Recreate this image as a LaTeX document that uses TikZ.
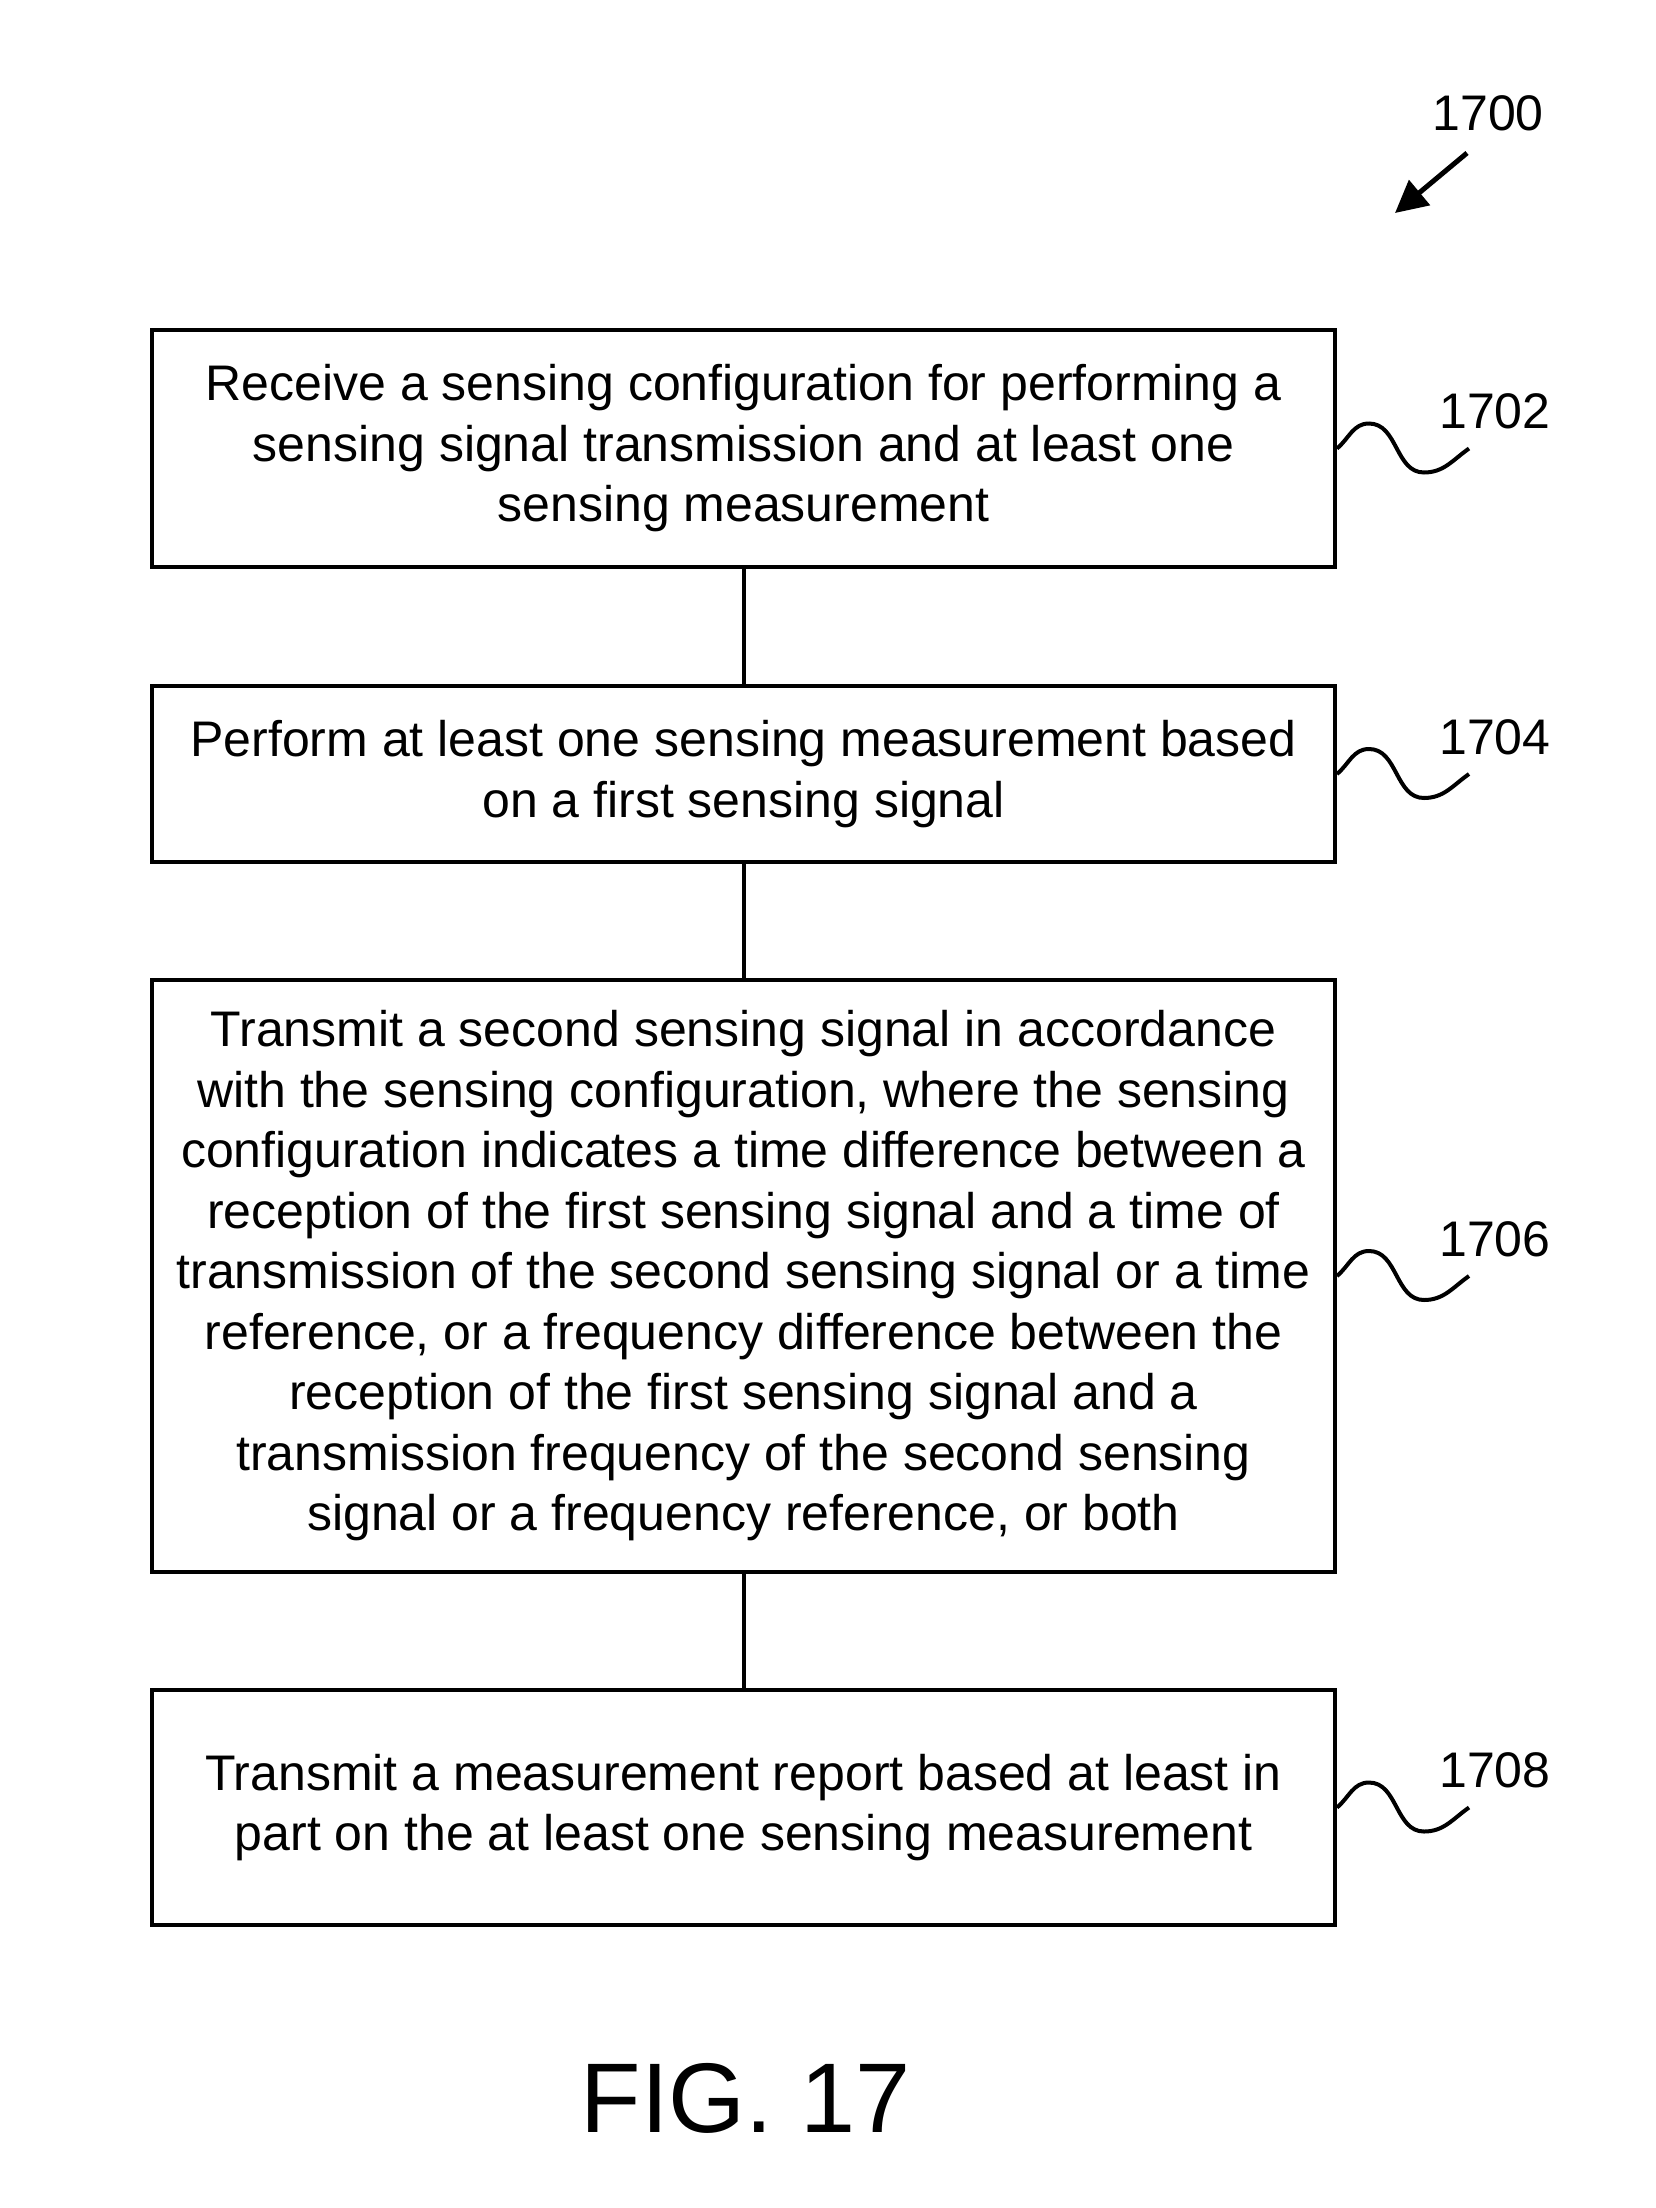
\documentclass[tikz,border=0pt]{standalone}
\usepackage{fontspec}
\setmainfont{Liberation Sans}
\usetikzlibrary{arrows.meta,calc}
\begin{document}
\begin{tikzpicture}[x=1pt,y=1pt,
  stepbox/.style={draw, line width=4pt, inner sep=0pt, minimum width=1183pt, align=center,
    font=\fontsize{50}{60.5}\selectfont},
  conn/.style={line width=4pt},
  squig/.style={line width=4pt},
  lbl/.style={inner sep=0pt, font=\fontsize{50}{60}\selectfont}]
\useasboundingbox (0,0) rectangle (1655,-2208);
\node[stepbox, minimum height=237pt] (b1) at (743.5,-448.5) {Receive a sensing configuration for performing a\\ sensing signal transmission and at least one\\ sensing measurement};
\node[stepbox, minimum height=176pt] (b2) at (743.5,-774) {Perform at least one sensing measurement based\\ on a first sensing signal};
\node[stepbox, minimum height=592pt] (b3) at (743.5,-1276) {Transmit a second sensing signal in accordance\\ with the sensing configuration, where the sensing\\ configuration indicates a time difference between a\\ reception of the first sensing signal and a time of\\ transmission of the second sensing signal or a time\\ reference, or a frequency difference between the\\ reception of the first sensing signal and a\\ transmission frequency of the second sensing\\ signal or a frequency reference, or both};
\node[stepbox, minimum height=235pt] (b4) at (743.5,-1807.5) {Transmit a measurement report based at least in\\ part on the at least one sensing measurement};
\draw[conn] (b1.south) -- (b2.north);
\draw[conn] (b2.south) -- (b3.north);
\draw[conn] (b3.south) -- (b4.north);
\foreach \b/\t in {b1/1702,b2/1704,b3/1706,b4/1708}{
  \draw[squig] (\b.east) to[out=40,in=180] ++(32,25) to[out=0,in=180] ++(55,-49) to[out=0,in=215] ++(45,24) coordinate (e\b);
  \node[lbl, anchor=west] (l\b) at ($(\b.east)+(102,37)$) {\t};
}
\node[lbl] (l1700) at (1488,-113) {1700};
\coordinate (a1700) at (1395,-213);
\draw[line width=5pt, -{Triangle[length=32pt,width=32pt]}] (1467,-153) -- (a1700);
\node[inner sep=0pt, font=\fontsize{99}{110}\selectfont] (fig) at (746,-2098) {FIG. 17};
\end{tikzpicture}
\end{document}
